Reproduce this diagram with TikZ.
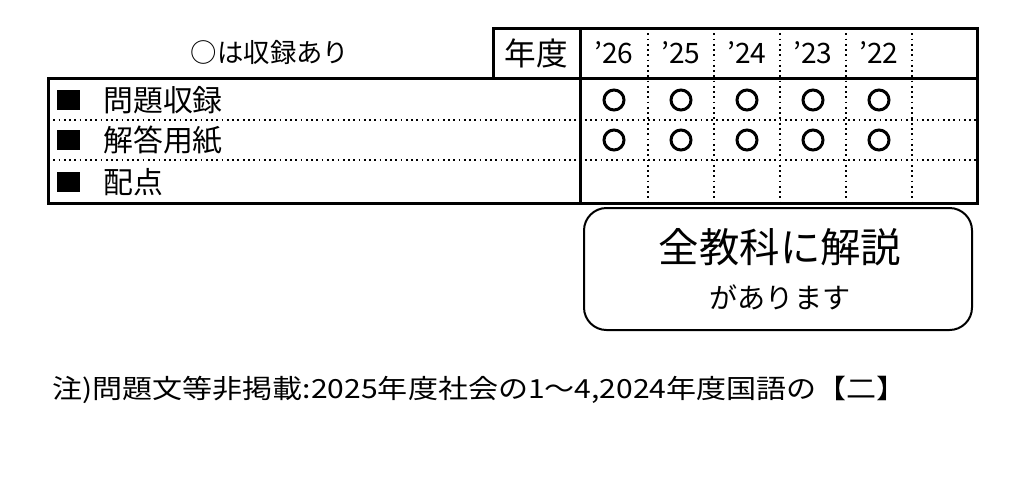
\documentclass[tikz,border=0pt]{standalone}
\usepackage{fontspec}
\setmainfont{Noto Sans CJK JP}
\usetikzlibrary{positioning}
\begin{document}
\begin{tikzpicture}[x=0.02cm,y=-0.02cm,
  frame/.style={line width=0.06cm},
  dots/.style={line width=0.035cm,dotted},
  ring/.style={line width=0.06cm},
  lbl/.style={font=\fontsize{17}{17}\selectfont,anchor=west,inner sep=0pt}]
\useasboundingbox (0,0) rectangle (1028,498);
% header
\node (legend) at (270,52) {\fontsize{15}{15}\selectfont ○は収録あり};
\draw[frame] (493,28) rectangle (580,78);
\node (nendo) at (536,53) {\fontsize{18}{18}\selectfont 年度};
\draw[frame] (580,28) rectangle (977,78);
\draw[frame] (48,78) rectangle (977,203);
\draw[frame] (580,78) -- (580,203);
% dotted grid
\foreach \x in {648,714,780,846,912}
  \draw[dots] (\x,28) -- (\x,203);
\foreach \y in {120,160}
  \draw[dots] (48,\y) -- (977,\y);
% years
\foreach \yr/\x in {26/614,25/681,24/747,23/813,22/879}
  \node (y\yr) at (\x,53) {\fontsize{16}{16}\selectfont '\yr};
% rows
\foreach \t/\y/\n in {問題収録/100/a,解答用紙/140/b,配点/182/c}{
  \fill (57,\y-10) rectangle (80,\y+10);
  \node[lbl] (row\n) at (103,\y) {\t};
}
% marks
\foreach \x in {614,681,747,813,879}
  \foreach \y in {100,140}
    \draw[ring] (\x,\y) circle[radius=0.2cm];
% note box
\draw[line width=0.04cm,rounded corners=0.45cm] (584,208) rectangle (972,330);
\node (kaisetsu) at (780,247) {\fontsize{23}{23}\selectfont 全教科に解説};
\node (arimasu) at (780,297) {\fontsize{16}{16}\selectfont があります};
% footnote
\node[lbl,xscale=1.14] (note) at (52,390) {\fontsize{15}{15}\selectfont 注)問題文等非掲載:2025年度社会の1〜4,2024年度国語の【二】};
\end{tikzpicture}
\end{document}
